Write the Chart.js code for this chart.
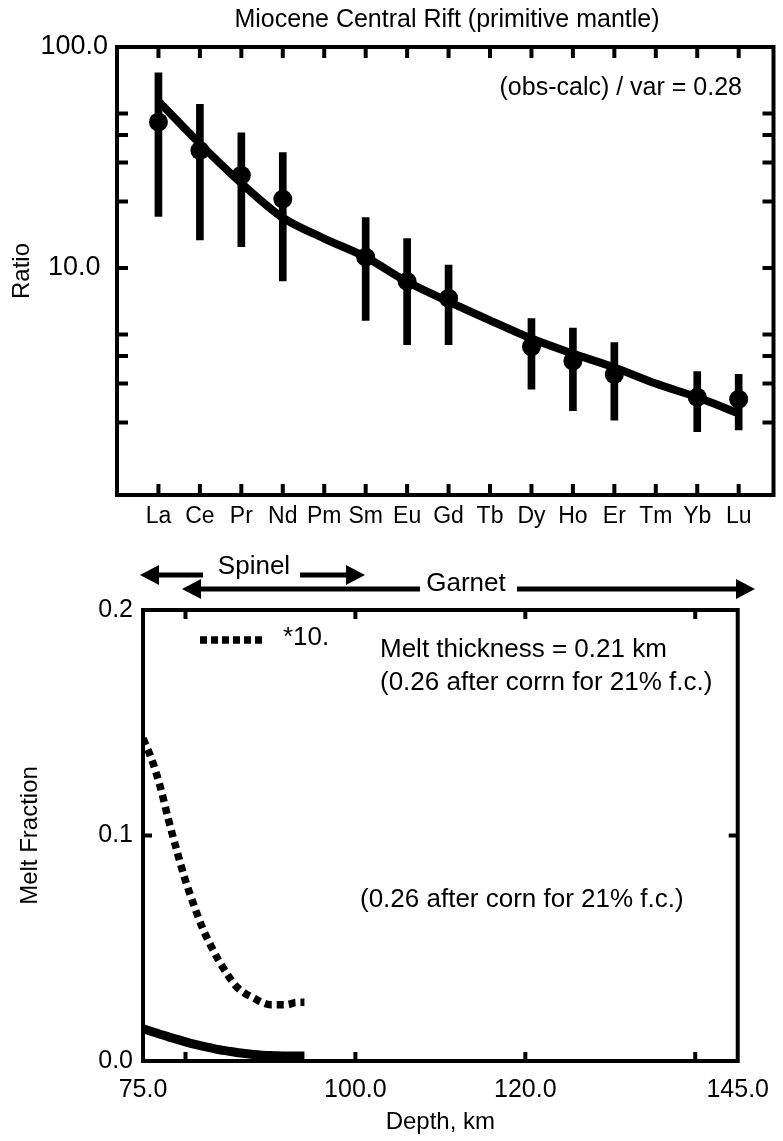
<!DOCTYPE html>
<html>
<head>
<meta charset="utf-8">
<title>Miocene Central Rift</title>
<script src="https://cdn.jsdelivr.net/npm/chart.js@4.4.1/dist/chart.umd.min.js"></script>
<style>
  html, body { margin: 0; padding: 0; background: #fff; }
  #wrap { position: relative; width: 783px; height: 1141px; }
  canvas { position: absolute; left: 0; }
  #ree { top: 0; }
  #melt { top: 540px; }
</style>
</head>
<body>
<div id="wrap">
  <canvas id="ree" width="783" height="540"></canvas>
  <canvas id="melt" width="783" height="601"></canvas>
</div>
<script>
// REE pattern normalised to primitive mantle
const elements = ['La', 'Ce', 'Pr', 'Nd', 'Pm', 'Sm', 'Eu', 'Gd', 'Tb', 'Dy', 'Ho', 'Er', 'Tm', 'Yb', 'Lu']
const obsElements = ['La', 'Ce', 'Pr', 'Nd', 'Sm', 'Eu', 'Gd', 'Dy', 'Ho', 'Er', 'Yb', 'Lu']
const obs     = [45.8, 34.0, 26.3, 20.5, 11.2, 8.7, 7.3, 4.4, 3.8, 3.3, 2.6, 2.55]
const obsLow  = [17.1, 13.4, 12.5, 8.75, 5.8, 4.5, 4.5, 2.83, 2.26, 2.05, 1.82, 1.85]
const obsHigh = [76.5, 55.0, 40.9, 33.3, 16.9, 13.6, 10.3, 5.9, 5.35, 4.6, 3.4, 3.3]
const calc    = [56.8, 36.5, 24.2, 16.9, 13.6, 11.2, 8.66, 7.05, 5.8, 4.8, 4.1, 3.55, 3.0, 2.6, 2.2]
const ratioTicks = [10, 100]
const ratioMarks = [2, 3, 4, 5, 10, 20, 30, 40, 50]

// melt fraction down the column
const depth   = [75, 76, 77, 78, 79, 80, 81, 82, 83, 84, 85, 86, 87, 88, 89, 90, 91, 92, 93, 94]
const meltX10 = [0.143, 0.134, 0.122, 0.107, 0.093, 0.080, 0.069, 0.059, 0.051, 0.044, 0.038, 0.033, 0.030, 0.028, 0.026, 0.025, 0.025, 0.025, 0.026, 0.026]
const melt    = [0.0143, 0.0131, 0.0119, 0.0107, 0.0096, 0.0085, 0.0075, 0.0066, 0.0058, 0.0050, 0.0044, 0.0038, 0.0033, 0.0029, 0.0026, 0.0024, 0.0023, 0.0022, 0.0022, 0.0022]
const depthTicks = [75, 100, 120, 145]
const depthMarks = [80, 100, 120, 140]
const meltTicks = [0, 0.1, 0.2]
const meltMarks = [0.1]

Chart.defaults.font.family = "'Liberation Sans', Arial, sans-serif"
Chart.defaults.color = '#000'

const FONT = "'Liberation Sans', Arial, sans-serif"

// box round the plot with inward tick marks
function frame(xMarks, yMarks, len) {
  return {
    id: 'frame',
    afterDatasetsDraw(chart) {
      const { ctx, chartArea: a } = chart
      const x = chart.scales.x, y = chart.scales.y
      ctx.save()
      ctx.strokeStyle = '#000'
      ctx.lineWidth = 4
      ctx.strokeRect(a.left, a.top, a.right - a.left, a.bottom - a.top)
      ctx.beginPath()
      xMarks.forEach(v => {
        const px = x.getPixelForValue(v)
        ctx.moveTo(px, a.top); ctx.lineTo(px, a.top + len)
        ctx.moveTo(px, a.bottom); ctx.lineTo(px, a.bottom - len)
      })
      yMarks.forEach(v => {
        const py = y.getPixelForValue(v)
        ctx.moveTo(a.left, py); ctx.lineTo(a.left + len, py)
        ctx.moveTo(a.right, py); ctx.lineTo(a.right - len, py)
      })
      ctx.stroke()
      ctx.restore()
    }
  }
}

function arrow(ctx, from, to, y) {
  const dir = Math.sign(to - from)
  const head = 19
  ctx.beginPath()
  ctx.moveTo(from, y)
  ctx.lineTo(to - dir * head, y)
  ctx.stroke()
  ctx.beginPath()
  ctx.moveTo(to, y)
  ctx.lineTo(to - dir * head, y - 10)
  ctx.lineTo(to - dir * head, y + 10)
  ctx.closePath()
  ctx.fill()
}

const ptsFor = (names, vals) => names.map((e, i) => ({ x: elements.indexOf(e) + 1, y: vals[i] }))

new Chart(document.getElementById('ree'), {
  type: 'line',
  data: {
    datasets: [
      {
        label: 'calc',
        data: elements.map((e, i) => ({ x: i + 1, y: calc[i] })),
        borderColor: '#000',
        borderWidth: 8,
        pointRadius: 0,
        cubicInterpolationMode: 'monotone',
        order: 1
      },
      {
        label: 'obs',
        data: ptsFor(obsElements, obs),
        showLine: false,
        pointRadius: 9.5,
        pointBackgroundColor: '#000',
        pointBorderWidth: 0,
        order: 2
      },
      {
        type: 'bar',
        label: 'range',
        data: obsElements.map((e, i) => ({ x: elements.indexOf(e) + 1, y: [obsLow[i], obsHigh[i]] })),
        backgroundColor: '#000',
        barThickness: 7,
        order: 3
      }
    ]
  },
  options: {
    responsive: false,
    animation: false,
    layout: { padding: { left: 0, right: 7, top: 47, bottom: 0 } },
    plugins: {
      legend: { display: false },
      tooltip: { enabled: false }
    },
    scales: {
      x: {
        type: 'linear',
        min: 0,
        max: 15.84,
        offset: false,
        grid: { display: false, drawTicks: false },
        border: { display: false },
        afterBuildTicks: s => { s.ticks = elements.map((e, i) => ({ value: i + 1 })) },
        ticks: {
          callback: v => elements[Math.round(v) - 1],
          font: { size: 23 },
          padding: 8,
          maxRotation: 0,
          autoSkip: false
        },
        afterFit: s => { s.height = 45 }
      },
      y: {
        type: 'logarithmic',
        min: 0.94,
        max: 100,
        grid: { display: false, drawTicks: false },
        border: { display: false },
        afterBuildTicks: s => { s.ticks = ratioTicks.map(v => ({ value: v })) },
        ticks: {
          callback: v => Number(v).toFixed(1),
          font: { size: 27 },
          padding: 9,
          crossAlign: 'center'
        },
        title: { display: true, text: 'Ratio', font: { size: 24 }, padding: { top: 8 } },
        afterFit: s => { s.width = 117 }
      }
    }
  },
  plugins: [
    frame(elements.map((e, i) => i + 1), ratioMarks, 11),
    {
      id: 'notes',
      afterDraw(chart) {
        const ctx = chart.ctx
        ctx.save()
        ctx.fillStyle = '#000'
        ctx.textBaseline = 'middle'
        ctx.font = '25px ' + FONT
        ctx.textAlign = 'center'
        ctx.fillText('Miocene Central Rift (primitive mantle)', 447, 20)
        ctx.textAlign = 'right'
        ctx.fillText('(obs-calc) / var = 0.28', 742, 88)
        ctx.restore()
      }
    }
  ]
})

new Chart(document.getElementById('melt'), {
  type: 'line',
  data: {
    datasets: [
      {
        label: '*10.',
        data: depth.map((d, i) => ({ x: d, y: meltX10[i] })),
        borderColor: '#000',
        borderWidth: 7.5,
        borderDash: [7, 5],
        pointRadius: 0,
        cubicInterpolationMode: 'monotone'
      },
      {
        label: 'melt fraction',
        data: depth.map((d, i) => ({ x: d, y: melt[i] })),
        borderColor: '#000',
        borderWidth: 9,
        pointRadius: 0,
        cubicInterpolationMode: 'monotone'
      }
    ]
  },
  options: {
    responsive: false,
    animation: false,
    layout: { padding: { left: 0, right: 35, top: 70, bottom: 0 } },
    plugins: { legend: { display: false }, tooltip: { enabled: false } },
    scales: {
      x: {
        type: 'linear',
        min: 75,
        max: 145,
        grid: { display: false, drawTicks: false },
        border: { display: false },
        afterBuildTicks: s => { s.ticks = depthTicks.map(v => ({ value: v })) },
        ticks: { callback: v => Number(v).toFixed(1), font: { size: 25 }, padding: 14, maxRotation: 0 },
        title: { display: true, text: 'Depth, km', font: { size: 24 }, padding: { top: 0, bottom: 4 } },
        afterFit: s => { s.height = 80 }
      },
      y: {
        type: 'linear',
        min: 0,
        max: 0.2,
        grid: { display: false, drawTicks: false },
        border: { display: false },
        afterBuildTicks: s => { s.ticks = meltTicks.map(v => ({ value: v })) },
        ticks: { callback: v => Number(v).toFixed(1), font: { size: 25 }, padding: 10 },
        title: { display: true, text: 'Melt Fraction', font: { size: 24 }, padding: { top: 16 } },
        afterFit: s => { s.width = 143 }
      }
    }
  },
  plugins: [
    frame(depthMarks, meltMarks, 9),
    {
      id: 'notes',
      afterDraw(chart) {
        const ctx = chart.ctx
        ctx.save()
        ctx.fillStyle = '#000'
        ctx.strokeStyle = '#000'
        ctx.lineWidth = 5
        arrow(ctx, 203, 140, 35)
        arrow(ctx, 300, 365, 35)
        arrow(ctx, 420, 182, 49)
        arrow(ctx, 517, 755, 49)
        ctx.textBaseline = 'middle'
        ctx.font = '26px ' + FONT
        ctx.textAlign = 'center'
        ctx.fillText('Spinel', 254, 27)
        ctx.fillText('Garnet', 466, 44)
        // legend sample for the scaled curve
        ctx.lineWidth = 7.5
        ctx.setLineDash([7, 4])
        ctx.beginPath()
        ctx.moveTo(200, 100)
        ctx.lineTo(265, 100)
        ctx.stroke()
        ctx.setLineDash([])
        ctx.textAlign = 'left'
        ctx.fillText('*10.', 283, 98)
        ctx.fillText('Melt thickness = 0.21 km', 380, 110)
        ctx.fillText('(0.26 after corrn for 21% f.c.)', 380, 143)
        ctx.fillText('(0.26 after corn for 21% f.c.)', 360, 360)
        ctx.restore()
      }
    }
  ]
})
</script>
</body>
</html>
